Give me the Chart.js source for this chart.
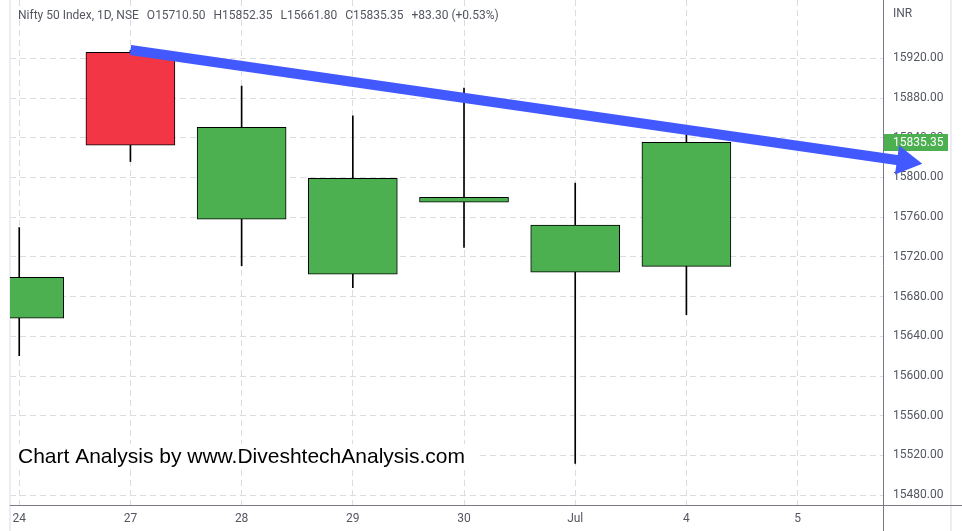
<!DOCTYPE html>
<html><head><meta charset="utf-8">
<script src="https://cdn.jsdelivr.net/npm/chart.js@4/dist/chart.umd.min.js"></script>
<style>html,body{margin:0;padding:0;background:#fff;overflow:hidden}#wrap{width:962px;height:531px;position:relative}</style>
</head><body><div id="wrap"><canvas id="c"></canvas></div>
<script>
// ---- data ----
const dayLabels = ['24', '27', '28', '29', '30', 'Jul', '4', '5'];
const openVals  = [15658.2, 15926.0, 15758.0, 15702.5, 15775.0, 15704.5, 15710.50];
const highVals  = [15749.5, 15928.0, 15892.0, 15862.0, 15890.0, 15794.4, 15852.35];
const lowVals   = [15620.5, 15816.0, 15711.0, 15689.0, 15729.6, 15512.0, 15661.80];
const closeVals = [15699.4, 15832.4, 15850.5, 15799.0, 15780.0, 15752.05, 15835.35];
const priceTicks = [15480, 15520, 15560, 15600, 15640, 15680, 15720, 15760, 15800, 15840, 15880, 15920];
const trendX = [1, 7.97];
const trendY = [15928.4, 15816.3];
const headerTitle = 'Nifty 50 Index, 1D, NSE';
const currency = 'INR';
const watermark = 'Chart Analysis by www.DiveshtechAnalysis.com';

const UP = '#4CAF50', DOWN = '#F23645', ARROW = '#4259FF';
const TXT = '#545761', GRID = '#DADCE2', AXIS = '#787B86';
const last = closeVals.length - 1;
const HEAD_R = 17;

const deco = {
  id: 'deco',
  beforeDatasetsDraw(chart) {
    const {ctx, chartArea: a, scales: {y}} = chart;
    ctx.save();
    // pane edges
    ctx.fillStyle = '#ECECF2';
    ctx.fillRect(a.left - 1, 0, 2, chart.height);
    ctx.fillRect(a.right + 66, 0, 2, chart.height);
    // axis lines
    ctx.strokeStyle = AXIS; ctx.lineWidth = 1;
    ctx.beginPath();
    ctx.moveTo(Math.round(a.right) - 0.5, 0); ctx.lineTo(Math.round(a.right) - 0.5, chart.height);
    ctx.moveTo(a.left, Math.round(a.bottom) - 0.5); ctx.lineTo(chart.width, Math.round(a.bottom) - 0.5);
    ctx.stroke();
    // header
    ctx.font = '12px Roboto';
    ctx.fillStyle = TXT; ctx.textBaseline = 'middle'; ctx.textAlign = 'left';
    const o = openVals[last], h = highVals[last], l = lowVals[last], c = closeVals[last];
    const chg = c - closeVals[last - 1];
    const parts = [headerTitle, 'O' + o.toFixed(2), 'H' + h.toFixed(2), 'L' + l.toFixed(2), 'C' + c.toFixed(2),
      (chg >= 0 ? '+' : '') + chg.toFixed(2) + ' (' + (chg >= 0 ? '+' : '') + (chg / closeVals[last - 1] * 100).toFixed(2) + '%)'];
    let hx = 18;
    parts.forEach(p => { ctx.fillText(p, hx, 15.5); hx += ctx.measureText(p).width + 8; });
    // currency
    ctx.fillText(currency, a.right + 9, 14);
    // watermark
    ctx.font = '21px "Liberation Sans", Arial, sans-serif';
    const w = ctx.measureText(watermark).width;
    ctx.fillStyle = '#fff';
    ctx.fillRect(a.left + 1, 444, 18 - a.left + w + 10, 26);
    ctx.fillStyle = '#000'; ctx.textBaseline = 'alphabetic';
    ctx.fillText(watermark, 18, 463);
    // last price label
    const py = y.getPixelForValue(c);
    ctx.fillStyle = UP;
    ctx.fillRect(a.right, Math.round(py - 8.5), 64, 17);
    ctx.fillStyle = '#fff'; ctx.font = '12px Roboto'; ctx.textBaseline = 'middle';
    ctx.fillText(c.toFixed(2), a.right + 9, py + 0.5);
    ctx.restore();
  },
  afterDatasetsDraw(chart) {
    // arrowhead at the end of the trend line (uses the line's own point positions)
    const pts = chart.getDatasetMeta(0).data;
    if (!pts || pts.length < 2) return;
    const p0 = pts[0], p1 = pts[pts.length - 1];
    const ang = Math.atan2(p1.y - p0.y, p1.x - p0.x);
    const ctx = chart.ctx;
    ctx.save();
    ctx.fillStyle = ARROW;
    ctx.beginPath();
    for (let k = 0; k < 3; k++) {
      const t = ang + k * 2 * Math.PI / 3;
      const px = p1.x + Math.cos(t) * HEAD_R, py = p1.y + Math.sin(t) * HEAD_R;
      if (k === 0) ctx.moveTo(px, py); else ctx.lineTo(px, py);
    }
    ctx.closePath();
    ctx.fill();
    ctx.restore();
  }
};

new Chart(document.getElementById('c'), {
  type: 'bar',
  data: {
    datasets: [
      {
        type: 'line', order: 0, clip: false,
        data: trendX.map((x, i) => ({x, y: trendY[i]})),
        borderColor: ARROW, borderWidth: 10, borderCapStyle: 'butt',
        pointRadius: 0
      },
      {
        type: 'bar', order: 1, grouped: false,
        data: openVals.map((o, i) => ({x: i, y: [o, closeVals[i]]})),
        backgroundColor: openVals.map((o, i) => closeVals[i] >= o ? UP : DOWN),
        borderColor: '#000', borderWidth: 1, borderSkipped: false, barThickness: 89
      },
      {
        type: 'bar', order: 2, grouped: false,
        data: lowVals.map((l, i) => ({x: i, y: [l, highVals[i]]})),
        backgroundColor: '#000', borderWidth: 0, barThickness: 1
      }
    ]
  },
  options: {
    responsive: true, maintainAspectRatio: false, animation: false, events: [],
    layout: {autoPadding: false, padding: {left: 10, top: 0, right: 0, bottom: 0}},
    plugins: {legend: {display: false}, tooltip: {enabled: false}},
    scales: {
      x: {
        type: 'linear', bounds: 'data', min: -0.083, max: 7.777, offset: false,
        afterBuildTicks: s => { s.ticks = dayLabels.map((_, i) => ({value: i})); },
        afterFit: s => { s.height = 25; s.paddingLeft = 0; s.paddingRight = 0; },
        ticks: {
          callback: v => dayLabels[v] ?? '', autoSkip: false, maxRotation: 0,
          font: {family: 'Roboto', size: 12}, color: TXT, padding: 6
        },
        grid: {color: GRID, drawTicks: false, lineWidth: 1, offset: false},
        border: {display: false, dash: [6, 4]}
      },
      y: {
        type: 'linear', position: 'right', bounds: 'data', min: 15469.1, max: 15978.7,
        afterBuildTicks: s => { s.ticks = priceTicks.map(v => ({value: v})); },
        afterFit: s => { s.width = 78; s.paddingTop = 0; s.paddingBottom = 0; },
        ticks: {
          callback: v => Number(v).toFixed(2),
          font: {family: 'Roboto', size: 12}, color: TXT, padding: 9
        },
        grid: {color: GRID, drawTicks: false, lineWidth: 1},
        border: {display: false, dash: [6, 4]}
      }
    }
  },
  plugins: [deco]
});
</script>
</body></html>
